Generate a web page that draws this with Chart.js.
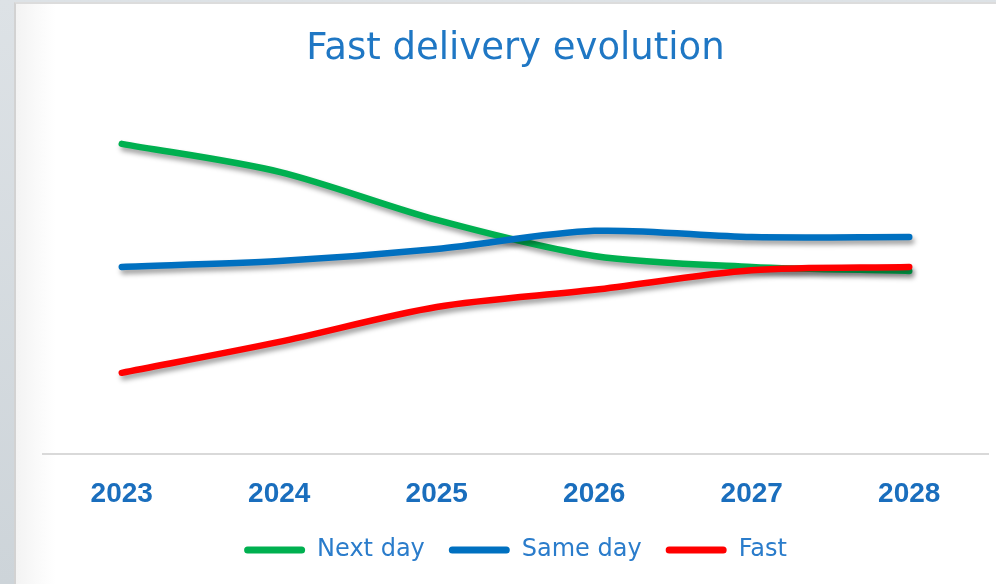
<!DOCTYPE html>
<html>
<head>
<meta charset="utf-8">
<script src="https://cdn.jsdelivr.net/npm/chart.js@4/dist/chart.umd.min.js"></script>
<style>
  html, body { margin: 0; padding: 0; width: 996px; height: 584px; overflow: hidden; }
  body { background: linear-gradient(to bottom, #dde2e6, #cdd4d9); position: relative; }
  #card { position: absolute; left: 14px; top: 2px; right: 0; bottom: 0;
          background: linear-gradient(to right, #f3f3f3 0px, #fbfbfb 25px, #ffffff 40px);
          border-left: 2px solid #d2d2d2; border-top: 2px solid #dcdcdc; }
  #wrap { position: absolute; left: 0; top: 0; width: 996px; height: 584px; }
</style>
</head>
<body>
<div id="card"></div>
<div id="wrap"><canvas id="c" width="996" height="584"></canvas></div>
<script>
const categories = ['2023', '2024', '2025', '2026', '2027', '2028'];
const nextDay = [8.52, 7.75, 6.43, 5.44, 5.14, 5.03];
const sameDay = [5.14, 5.30, 5.63, 6.13, 5.96, 5.96];
const fast    = [2.23, 3.08, 4.04, 4.51, 5.05, 5.14];
const seriesNames = ['Next day', 'Same day', 'Fast'];
const seriesColors = ['#00b050', '#0070c0', '#ff0000'];

const shadowPlugin = {
  id: 'lineShadow',
  beforeDatasetDraw(chart) {
    const ctx = chart.ctx;
    ctx.save();
    ctx.shadowColor = 'rgba(0,0,0,0.38)';
    ctx.shadowBlur = 5;
    ctx.shadowOffsetX = 2;
    ctx.shadowOffsetY = 4;
  },
  afterDatasetDraw(chart) {
    chart.ctx.restore();
  }
};

function mk(i, data, order) {
  return {
    label: seriesNames[i],
    data: data,
    borderColor: seriesColors[i],
    backgroundColor: seriesColors[i],
    borderWidth: 6.5,
    borderCapStyle: 'round',
    borderJoinStyle: 'round',
    pointRadius: 0,
    pointHoverRadius: 0,
    tension: 0.3,
    order: order
  };
}

new Chart(document.getElementById('c'), {
  type: 'line',
  data: {
    labels: categories,
    datasets: [mk(0, nextDay, 3), mk(1, sameDay, 2), mk(2, fast, 1)]
  },
  options: {
    responsive: false,
    animation: false,
    layout: { padding: { left: 43, right: 8, top: 0, bottom: 12 } },
    scales: {
      x: {
        offset: true,
        grid: { display: false, drawTicks: true, tickLength: 20 },
        border: { display: true, color: '#d9d9d9', width: 2 },
        ticks: {
          color: '#1a6ebd',
          padding: 3.8,
          font: { family: '"Liberation Sans", Arial, sans-serif', size: 28, weight: 'bold', lineHeight: 1.157 }
        }
      },
      y: {
        display: false,
        min: 0,
        max: 10
      }
    },
    plugins: {
      title: {
        display: true,
        text: 'Fast delivery evolution',
        color: '#1f77c4',
        font: { family: '"DejaVu Sans", sans-serif', size: 37, weight: 'normal', lineHeight: 1.2 },
        padding: { top: 27, bottom: 18.6 }
      },
      legend: {
        display: true,
        position: 'bottom',
        labels: {
          color: '#2a7ccb',
          font: { family: '"DejaVu Sans", sans-serif', size: 24 },
          boxWidth: 61,
          boxHeight: 7,
          padding: 24,
          useBorderRadius: true,
          borderRadius: 3.5,
          sort: (a, b) => a.datasetIndex - b.datasetIndex,
          generateLabels(chart) {
            return Chart.defaults.plugins.legend.labels.generateLabels(chart).map(it => {
              const c = seriesColors[it.datasetIndex];
              return Object.assign(it, { fillStyle: c, strokeStyle: c, lineWidth: 0 });
            });
          }
        }
      },
      tooltip: { enabled: false }
    }
  },
  plugins: [shadowPlugin]
});
</script>
</body>
</html>
